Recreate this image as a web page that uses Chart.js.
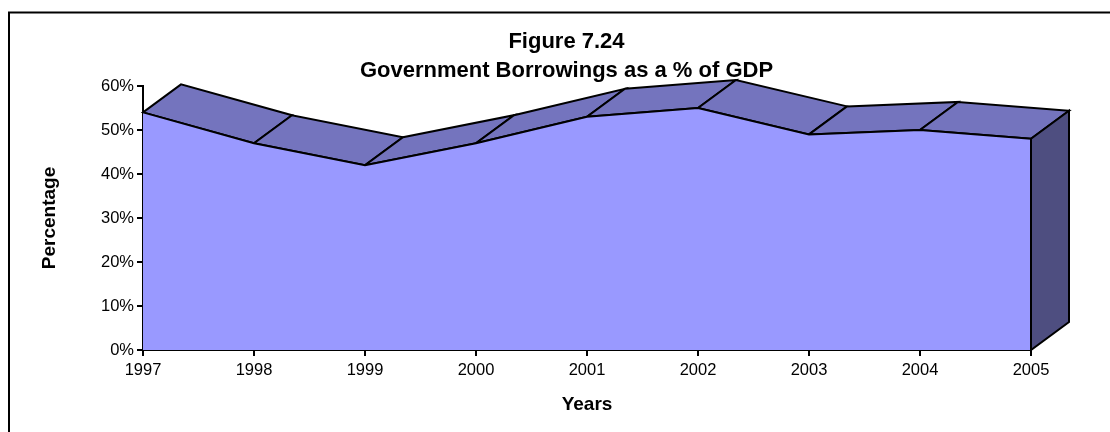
<!DOCTYPE html>
<html>
<head>
<meta charset="utf-8">
<title>Government Borrowings as a % of GDP</title>
<script src="https://cdn.jsdelivr.net/npm/chart.js@4.4.0/dist/chart.umd.min.js"></script>
<style>
  html, body { margin: 0; padding: 0; background: #fff; }
  canvas { display: block; }
</style>
</head>
<body>
<canvas id="chart" width="1110" height="432"></canvas>
<script>
const years = ["1997", "1998", "1999", "2000", "2001", "2002", "2003", "2004", "2005"];
const borrowings = [54, 47, 42, 47, 53, 55, 49, 50, 48];
const percentTicks = [0, 10, 20, 30, 40, 50, 60];
const titleLines = ["Figure 7.24", "Government Borrowings as a % of GDP"];

const FONT = "Arial, 'Liberation Sans', sans-serif";
const FRONT_COLOR = "#9999FF";
const TOP_COLOR = "#7474BE";
const SIDE_COLOR = "#4E4E80";
// depth of the 3D extrusion, in pixels
const DEPTH_X = 38;
const DEPTH_Y = -28;

// white background + the frame around the whole figure
const framePlugin = {
  id: "frame",
  beforeDraw(chart) {
    const ctx = chart.ctx;
    ctx.save();
    ctx.fillStyle = "#fff";
    ctx.fillRect(0, 0, chart.width, chart.height);
    ctx.strokeStyle = "#000";
    ctx.lineWidth = 2;
    ctx.strokeRect(9, 12.5, chart.width + 40, chart.height + 40);
    ctx.restore();
  }
};

// two-line heading, centred over the plot + its depth
const headingPlugin = {
  id: "heading",
  afterDraw(chart) {
    const ctx = chart.ctx;
    ctx.save();
    ctx.fillStyle = "#000";
    ctx.font = "bold 22px " + FONT;
    ctx.textAlign = "center";
    ctx.textBaseline = "alphabetic";
    ctx.fillText(titleLines[0], 566.5, 48);
    ctx.fillText(titleLines[1], 566.5, 77);
    ctx.restore();
  }
};

function drawQuad(ctx, p) {
  ctx.beginPath();
  ctx.moveTo(p[0][0], p[0][1]);
  for (let i = 1; i < p.length; i++) ctx.lineTo(p[i][0], p[i][1]);
  ctx.closePath();
  ctx.fill();
  ctx.stroke();
}

// top ribbon and right-hand side of the area, extruded back from the front face
const extrusionPlugin = {
  id: "extrusion",
  beforeDatasetsDraw(chart) {
    const ctx = chart.ctx;
    const pts = chart.getDatasetMeta(0).data;
    ctx.save();
    ctx.fillStyle = TOP_COLOR;
    ctx.strokeStyle = "#000";
    ctx.lineWidth = 2;
    for (let i = 0; i < pts.length - 1; i++) {
      const a = pts[i], b = pts[i + 1];
      drawQuad(ctx, [
        [a.x, a.y], [b.x, b.y],
        [b.x + DEPTH_X, b.y + DEPTH_Y], [a.x + DEPTH_X, a.y + DEPTH_Y]
      ]);
    }
    ctx.restore();
  },
  afterDatasetsDraw(chart) {
    const ctx = chart.ctx;
    const pts = chart.getDatasetMeta(0).data;
    const last = pts[pts.length - 1];
    const base = chart.scales.y.getPixelForValue(0);
    ctx.save();
    ctx.fillStyle = SIDE_COLOR;
    ctx.strokeStyle = "#000";
    ctx.lineWidth = 2;
    drawQuad(ctx, [
      [last.x, last.y], [last.x, base],
      [last.x + DEPTH_X, base + DEPTH_Y], [last.x + DEPTH_X, last.y + DEPTH_Y]
    ]);
    ctx.restore();
  }
};

const tickFont = { family: FONT, size: 16.5 };
const axisTitleFont = { family: FONT, size: 19, weight: "bold" };

new Chart(document.getElementById("chart"), {
  type: "line",
  data: {
    labels: years,
    datasets: [{
      data: borrowings,
      fill: "origin",
      backgroundColor: FRONT_COLOR,
      borderColor: "#000",
      borderWidth: 2,
      pointRadius: 0,
      tension: 0,
      clip: false
    }]
  },
  options: {
    responsive: false,
    animation: false,
    layout: { padding: { top: 86, right: 79, bottom: 0, left: 0 } },
    plugins: {
      legend: { display: false },
      tooltip: { enabled: false },
      title: { display: false }
    },
    scales: {
      x: {
        offset: false,
        grid: { drawOnChartArea: false, drawTicks: true, tickLength: 6, color: "#000", lineWidth: 2 },
        border: { color: "#000", width: 2 },
        ticks: { color: "#000", font: tickFont, padding: 5, maxRotation: 0, autoSkip: false },
        title: { display: true, text: "Years", color: "#000", font: axisTitleFont, padding: { top: 0, bottom: 16 } },
        afterFit(scale) { scale.height = 82; }
      },
      y: {
        min: 0,
        max: 60,
        grid: { drawOnChartArea: false, drawTicks: true, tickLength: 6, color: "#000", lineWidth: 2 },
        border: { color: "#000", width: 2 },
        ticks: { color: "#000", font: tickFont, padding: 3, callback: v => v + "%" },
        afterBuildTicks(scale) { scale.ticks = percentTicks.map(v => ({ value: v })); },
        title: { display: true, text: "Percentage", color: "#000", font: axisTitleFont, padding: { top: 38.6, bottom: 0 } },
        afterFit(scale) { scale.width = 143; }
      }
    }
  },
  plugins: [framePlugin, extrusionPlugin, headingPlugin]
});
</script>
</body>
</html>
